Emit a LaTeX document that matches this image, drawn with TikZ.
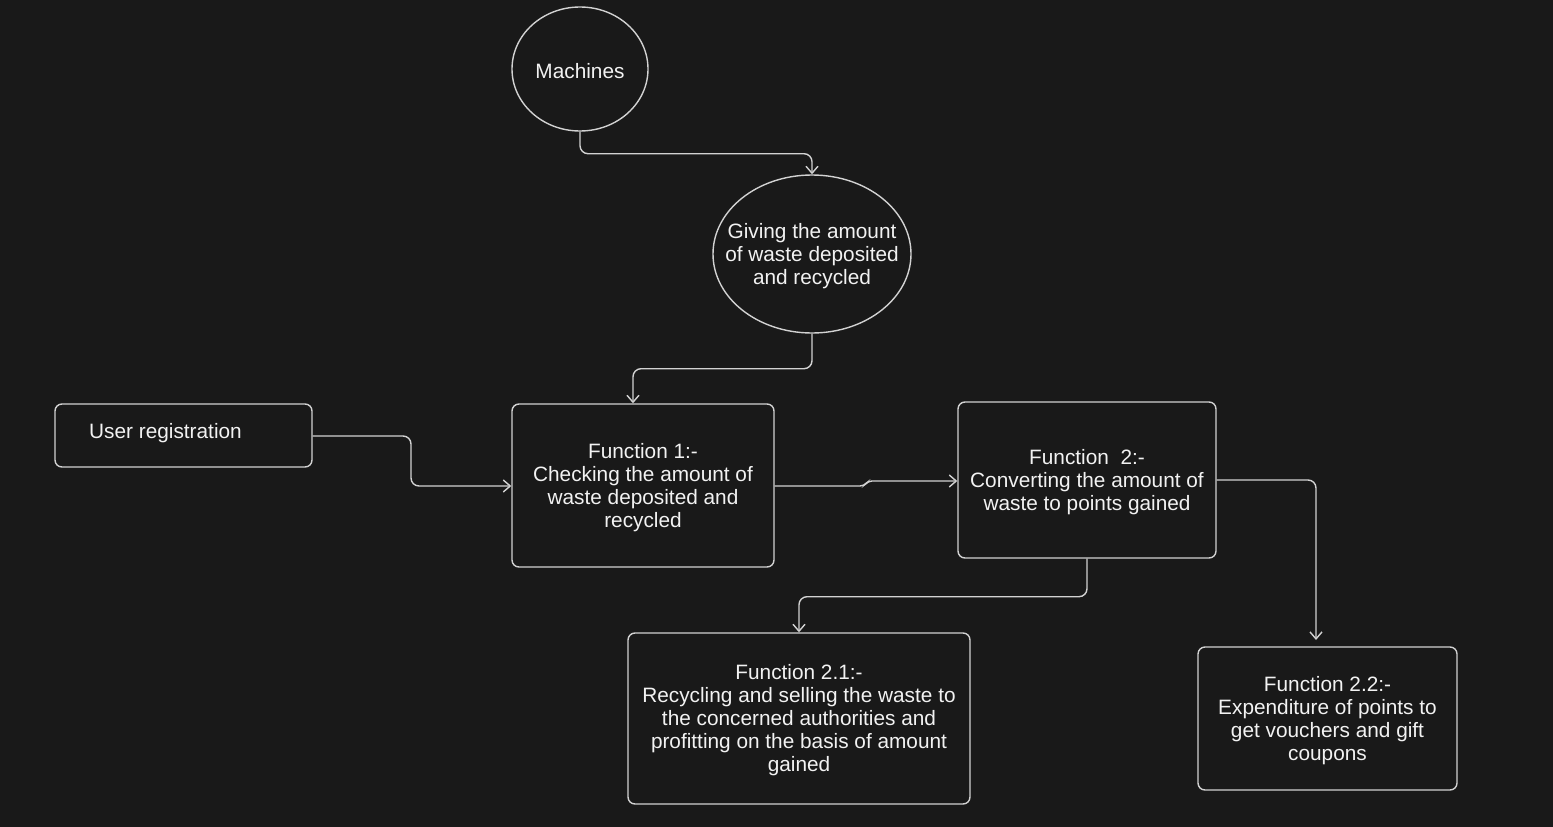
\documentclass[tikz,border=0pt]{standalone}
\usepackage{fontspec}
\setmainfont{Liberation Sans}
\usetikzlibrary{shapes.geometric,arrows.meta}
\definecolor{bg}{HTML}{191919}
\definecolor{ln}{HTML}{D2D2D2}
\definecolor{tx}{HTML}{F2F2F2}
\begin{document}
\begin{tikzpicture}[x=1pt,y=-1pt,
  every node/.style={text=tx,font=\fontsize{20.8}{23}\selectfont,align=center,inner sep=0pt},
  boxst/.style={draw=ln,line width=1.4pt,rounded corners=7pt,fill=bg},
  ellst/.style={draw=ln,line width=1.4pt,ellipse,fill=bg},
  conn/.style={draw=ln,line width=1.4pt,rounded corners=8pt,-{Straight Barb[length=7pt,width=12pt,line width=1.4pt]}}
]
\fill[bg] (0,0) rectangle (1553,827);
\useasboundingbox (0,0) rectangle (1553,827);

\node[ellst,minimum width=136pt,minimum height=124pt] (mach) at (580,69) {};
\node (macht) at (580,71) {Machines};
\node[ellst,minimum width=198pt,minimum height=158pt] (give) at (812,254) {};
\node (givet) at (812,256) {Giving the amount\\of waste deposited\\and recycled};
\node[boxst,minimum width=257pt,minimum height=63pt] (user) at (183.5,435.5) {};
\node[anchor=west] (usert) at (89,433) {User registration};
\node[boxst,minimum width=262pt,minimum height=163pt] (f1) at (643,485.5) {};
\node (f1t) at (643,487.5) {Function 1:-\\Checking the amount of\\waste deposited and\\recycled};
\node[boxst,minimum width=258pt,minimum height=156pt] (f2) at (1087,480) {};
\node (f2t) at (1087,482) {Function\ \ 2:-\\Converting the amount of\\waste to points gained};
\node[boxst,minimum width=342pt,minimum height=171pt] (f21) at (799,718.5) {};
\node (f21t) at (799,720.5) {Function 2.1:-\\Recycling and selling the waste to\\the concerned authorities and\\profitting on the basis of amount\\gained};
\node[boxst,minimum width=259pt,minimum height=143pt] (f22) at (1327.5,718.5) {};
\node (f22t) at (1327.5,721) {Function 2.2:-\\Expenditure of points to\\get vouchers and gift\\coupons};

\coordinate (f22in) at (1316,640);

\draw[conn] (mach.south) -- ++(0,22) -| (give.north);
\draw[conn] (give.south) -- ++(0,35) -| (f1.north -| 633,0);
\draw[conn] (user.east |- 0,436) -- (411,436) -- (411,486) -- (f1.west |- 0,486);
\draw[conn,rounded corners=4pt] (f1.east |- 0,486) -- (864,486) -- (868,481) -- (f2.west |- 0,481);
\draw[conn] (f2.east) -- (1316,480) -- (f22in);
\draw[conn] (f2.south) -- ++(0,38) -| (f21.north);
\end{tikzpicture}
\end{document}
